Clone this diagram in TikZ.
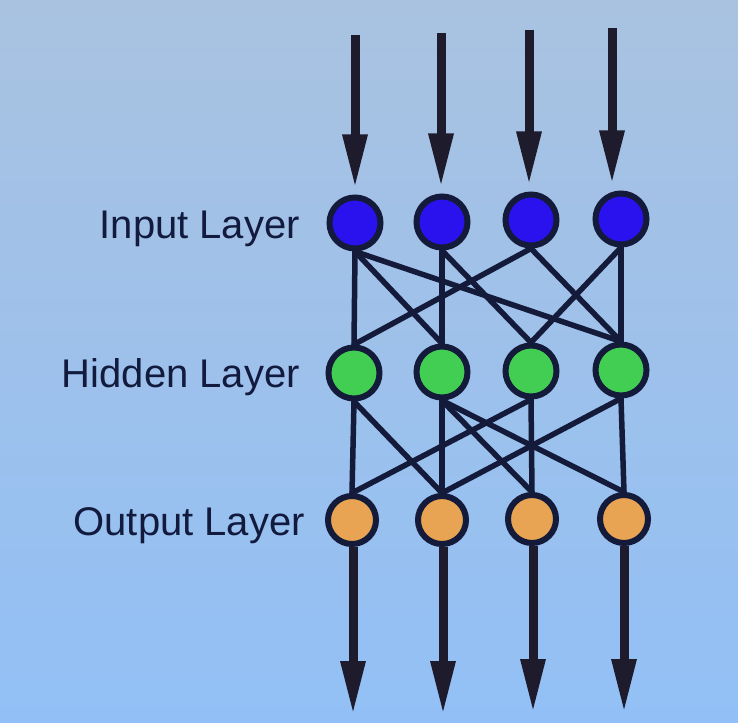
\documentclass[tikz,border=0pt]{standalone}
\usepackage{fontspec}
\setmainfont{Liberation Sans}
\usetikzlibrary{arrows.meta}
\definecolor{bgtop}{HTML}{A9C2E0}
\definecolor{bgbot}{HTML}{92C0F6}
\definecolor{ink}{HTML}{141A3A}
\definecolor{arrowink}{HTML}{1E1C2C}
\definecolor{inblue}{HTML}{2A12EE}
\definecolor{hidgreen}{HTML}{42CE52}
\definecolor{outorange}{HTML}{E8A452}
\definecolor{txt}{HTML}{121A3E}
\tikzset{
  neuron/.style={circle, draw=ink, line width=6pt, minimum size=51pt, inner sep=0pt},
  inneuron/.style={neuron, fill=inblue},
  hidneuron/.style={neuron, fill=hidgreen},
  outneuron/.style={neuron, fill=outorange, minimum size=48pt},
  link/.style={draw=ink, line width=5.5pt, line cap=round},
  bigarrow/.style={draw=arrowink, line width=9pt, -{Triangle[length=54pt,width=23pt]}},
  layerlabel/.style={anchor=base east, text=txt, font=\fontsize{40}{46}\selectfont, inner sep=0pt}
}
\begin{document}
\begin{tikzpicture}[x=1pt,y=-1pt]
\shade[top color=bgtop, bottom color=bgbot] (0,0) rectangle (738,722);
\useasboundingbox (0,0) rectangle (738,722);

% neurons
\node[inneuron] (I1) at (355,223) {};
\node[inneuron] (I2) at (442,222) {};
\node[inneuron] (I3) at (531,220) {};
\node[inneuron] (I4) at (621,219) {};
\node[hidneuron] (H1) at (354,373) {};
\node[hidneuron] (H2) at (442,372) {};
\node[hidneuron] (H3) at (531,371) {};
\node[hidneuron] (H4) at (621,370) {};
\node[outneuron] (O1) at (352,520) {};
\node[outneuron] (O2) at (442,520) {};
\node[outneuron] (O3) at (532,519) {};
\node[outneuron] (O4) at (624,519) {};

% labels
\node[layerlabel] (lin) at (300,238) {Input Layer};
\node[layerlabel] (lhid) at (300,387) {Hidden Layer};
\node[layerlabel] (lout) at (305,535) {Output Layer};

% input -> hidden
\foreach \a/\b in {I1/H1, I1/H2, I1/H4, I2/H2, I2/H3, I3/H1, I3/H4, I4/H3, I4/H4}
  \draw[link] (\a.south) -- (\b.north);
% hidden -> output
\foreach \a/\b in {H1/O1, H1/O2, H2/O2, H2/O3, H2/O4, H3/O1, H3/O3, H4/O2, H4/O4}
  \draw[link] (\a.south) -- (\b.north);

% input arrows
\coordinate (t1) at (355,35);
\coordinate (t2) at (441,33);
\coordinate (t3) at (529,30);
\coordinate (t4) at (612,28);
\draw[bigarrow, shorten >=6pt] (t1) -- (t1 |- I1.north);
\draw[bigarrow, shorten >=6pt] (t2) -- (t2 |- I2.north);
\draw[bigarrow, shorten >=6pt] (t3) -- (t3 |- I3.north);
\draw[bigarrow, shorten >=6pt] (t4) -- (t4 |- I4.north);

% output arrows
\coordinate (b1) at (353,715);
\coordinate (b2) at (443,715);
\coordinate (b3) at (533,713);
\coordinate (b4) at (624,713);
\draw[bigarrow] (b1 |- O1.south) -- (b1);
\draw[bigarrow] (b2 |- O2.south) -- (b2);
\draw[bigarrow] (b3 |- O3.south) -- (b3);
\draw[bigarrow] (b4 |- O4.south) -- (b4);
\end{tikzpicture}
\end{document}
